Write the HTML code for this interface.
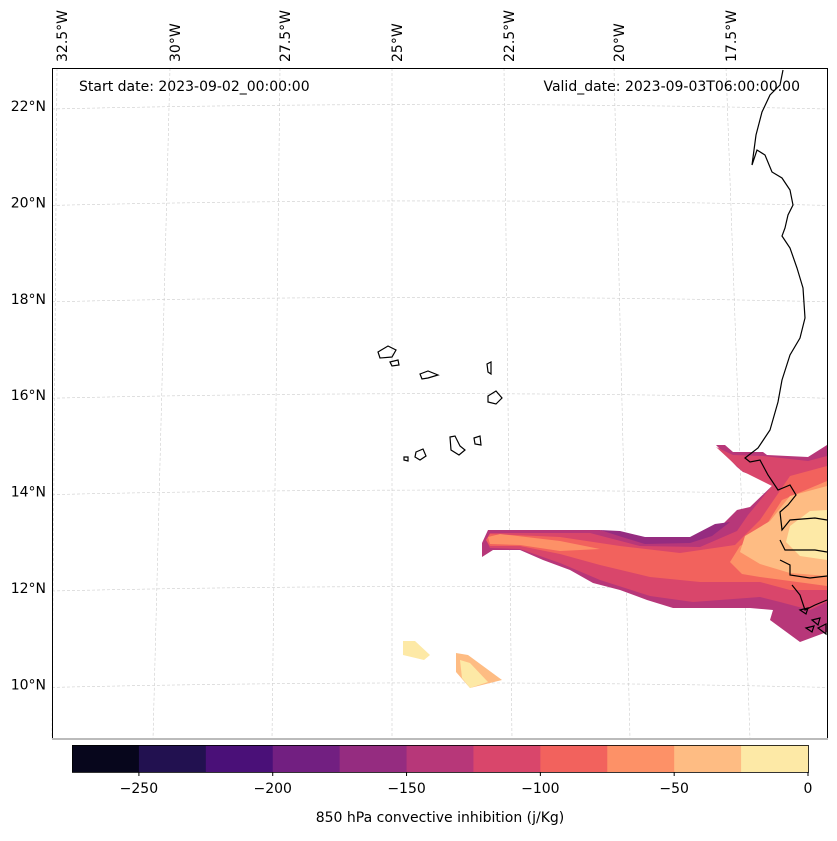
<!DOCTYPE html>
<html><head><meta charset="utf-8"><style>
body{margin:0;background:#fff;font-family:"Liberation Sans",sans-serif}
svg text{font-family:"DejaVu Sans","Liberation Sans",sans-serif}
</style></head><body>
<svg width="837" height="836" viewBox="0 0 837 836" xmlns="http://www.w3.org/2000/svg">
<g id="grid"></g>
<g id="fill"></g>
<g id="coast" fill="none" stroke="#000" stroke-width="1.2">
<path d="M783,70 L780,85 L770,95 L762,112 L756,135 L752,165 L757,150 L765,155 L772,172 L782,178 L790,190 L793,205 L788,215 L785,228 L782,236 L790,248 L797,268 L803,288 L805,318 L800,338 L790,355 L782,380 L778,402 L770,430 L758,448 L745,458 L750,462 L760,460 L768,475 L778,490 L790,485 L796,495 L788,505 L780,512 L782,530 L790,520 L815,518 L827,520 M780,540 L785,550 L815,550 L827,552 M780,560 L790,565 L790,575 L810,578 L827,576 M792,585 L800,595 L805,610 L815,605 L827,600"/>
<path d="M378,352 L388,346 L396,350 L392,357 L380,358 Z"/>
<path d="M390,362 L398,360 L399,365 L392,366 Z"/>
<path d="M420,374 L428,371 L438,375 L428,378 L422,379 Z"/>
<path d="M487,364 L491,362 L491,374 L488,372 Z"/>
<path d="M488,396 L496,391 L502,398 L496,404 L488,402 Z"/>
<path d="M474,438 L480,436 L481,445 L475,444 Z"/>
<path d="M450,437 L455,436 L460,446 L465,450 L459,455 L451,450 Z"/>
<path d="M416,452 L423,449 L426,456 L420,460 L415,457 Z"/>
<path d="M404,457 L408,457 L408,461 L404,460 Z"/>
<path d="M800,610 L808,608 L806,614 Z M812,620 L820,618 L818,625 Z M806,628 L814,626 L812,632 Z M818,628 L826,624 L826,634 Z"/>
</g>
<rect x="52.5" y="68.5" width="775" height="671" fill="none" stroke="#000" stroke-width="1"/>
<rect x="52" y="738" width="776" height="2" fill="#bbb"/>
<text x="79" y="91" font-size="14">Start date: 2023-09-02_00:00:00</text>
<text x="800" y="91" font-size="14" text-anchor="end">Valid_date: 2023-09-03T06:00:00.00</text>
<g id="lonlab"></g>
<g id="latlab"></g>
<g id="cbar"></g>
<text x="440" y="822" font-size="14" text-anchor="middle">850 hPa convective inhibition (j/Kg)</text>
</svg>
<script>
const NS="http://www.w3.org/2000/svg";
const levels=[-275,-250,-225,-200,-175,-150,-125,-100,-75,-50,-25,0];
const colors=["#07061c","#221150","#4a1078","#721f81","#952c80","#b73779","#d9466b","#f2625d","#fd9167","#febc83","#fde9a6"];
const cbTicks=[-250,-200,-150,-100,-50,0];
const latTicks=[22,20,18,16,14,12,10];
const lonTicks=["32.5°W","30°W","27.5°W","25°W","22.5°W","20°W","17.5°W"];
const lonTop=[57,170,280,392,504,614,726];
const lonBot=[52,153,272,392,512,630,750];
function mk(t,a,p){const e=document.createElementNS(NS,t);for(const k in a)e.setAttribute(k,a[k]);p.appendChild(e);return e;}
function latY(l){return 106+(22-l)*48.2;}
function cbX(v){return 72+(v+275)/275*736;}
const grid=document.getElementById('grid');
latTicks.forEach(l=>{const y=latY(l);
 const ln=mk('path',{d:`M52,${y+3} Q440,${y-6} 827,${y+3}`,fill:'none',stroke:'#ccc','stroke-width':0.6,'stroke-dasharray':'3,2'},grid);
 
 
 const t=mk('text',{x:46,y:y+5,'font-size':14,'text-anchor':'end'},document.getElementById('latlab'));t.textContent=l+'°N';
 
 });
lonTicks.forEach((s,i)=>{
 const ln=mk('line',{x1:lonTop[i],y1:68,x2:lonBot[i],y2:739,stroke:'#ccc','stroke-width':0.6,'stroke-dasharray':'3,2'},grid);
 
 
 const t=mk('text',{x:0,y:0,'font-size':14,transform:`translate(${lonTop[i]+10},62) rotate(-90)`},document.getElementById('lonlab'));t.textContent=s;
 
 });
const bandLevels=[5,4,6,7,8,8,9,10];
const bandPolys=[
"716,445 725,445 733,452 763,452 767,455 808,457 827,445 827,632 800,642 770,620 773,610 750,608 693,608 673,608 647,600 620,590 593,583 570,570 543,560 520,550 493,550 482,557 482,543 488,530 600,530 640,540 690,541 720,527 737,510 750,507 775,483 743,472 737,467",
"600,530 620,531 645,537 690,537 715,524 730,522 712,536 690,543 645,544 622,537",
"716,447 733,455 763,456 808,461 827,456 827,602 810,610 780,602 760,597 693,602 650,596 600,580 560,563 520,549 490,548 486,540 490,533 590,533 640,546 700,547 737,531 748,515 772,486 742,471",
"486,540 490,534 560,537 620,546 680,553 735,545 760,520 790,476 827,466 827,590 790,590 760,582 700,582 650,577 600,565 560,554 520,546 490,546",
"488,537 500,534 560,541 600,549 560,551 520,545 490,544",
"730,562 740,546 760,535 782,500 827,481 827,586 790,581 760,577 742,574",
"740,552 745,536 770,521 790,496 827,486 827,576 790,573 760,564",
"786,542 790,526 810,511 827,510 827,560 800,556",
];
const fill=document.getElementById('fill');
bandPolys.forEach((p,i)=>{const e=mk('polygon',{points:p,fill:colors[bandLevels[i]]},fill);
 
 });
const blobs=[["403,641 415,641 430,655 424,660 403,655",10],["456,653 468,655 502,680 470,688 456,672",9],["460,660 470,663 488,682 470,688 462,678",10]];
blobs.forEach(b=>{const e=mk('polygon',{points:b[0],fill:colors[b[1]]},fill);
 
 });
const cb=document.getElementById('cbar');
for(let i=0;i<colors.length;i++){const r=mk('rect',{x:cbX(levels[i]),y:745,width:cbX(levels[i+1])-cbX(levels[i])+0.5,height:27,fill:colors[i]},cb);
 
 }
mk('rect',{x:72.5,y:745.5,width:736,height:27,fill:'none',stroke:'#000','stroke-width':0.8},cb);
cbTicks.forEach(v=>{const x=cbX(v);mk('line',{x1:x,y1:772,x2:x,y2:776,stroke:'#000'},cb);
 const t=mk('text',{x:x,y:793,'font-size':14,'text-anchor':'middle'},cb);t.textContent=(v<0?'−'+(-v):v);
 
 });
</script>
</body></html>
